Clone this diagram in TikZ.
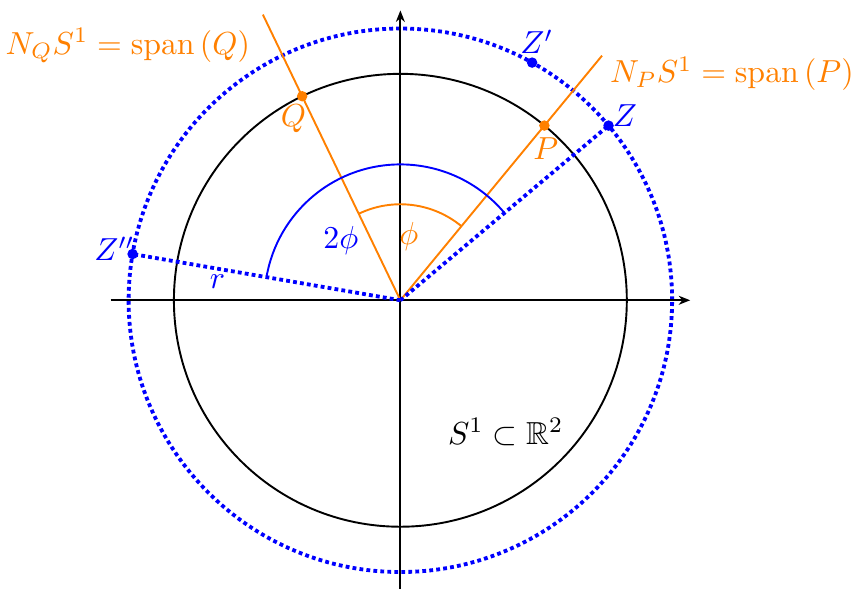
\documentclass[tikz,border=0pt]{standalone}
\usepackage{amsmath,amssymb}
\usetikzlibrary{arrows.meta}
\tikzset{
  axisline/.style={semithick,-{Stealth[length=3.6pt,width=2.8pt,inset=1.1pt]}},
  blackcirc/.style={semithick},
  orangeline/.style={orange,semithick},
  bluedot/.style={blue,very thick,densely dotted},
  dotblue/.style={circle,fill=blue,inner sep=0pt,minimum size=3.3pt},
  dotorange/.style={circle,fill=orange,inner sep=0pt,minimum size=3.3pt},
  lbl/.style={inner sep=1pt},
}
\begin{document}
\begin{tikzpicture}[x=1cm,y=1cm]
\useasboundingbox (-4.42,-3.18) rectangle (4.975,3.315);
\coordinate (O) at (0,0);
% circles
\draw[blackcirc] (O) circle[radius=2.5];
\draw[bluedot] (O) circle[radius=3];
% axes
\coordinate (xl) at (-3.2,0);
\coordinate (xr) at (3.2,0);
\coordinate (yb) at (0,-3.25);
\coordinate (yt) at (0,3.2);
\draw[axisline] (xl) -- (xr);
\draw[axisline] (yb) -- (yt);
% normal lines
\coordinate (Pend) at (50.5:3.5);
\coordinate (Qend) at (115.7:3.5);
\draw[orangeline] (O) -- (Pend);
\draw[orangeline] (O) -- (Qend);
% arcs
\coordinate (phiS) at (50.5:1.06);
\coordinate (tphiS) at (40:1.5);
\draw[orangeline] (phiS) arc[start angle=50.5,end angle=115.7,radius=1.06];
\draw[blue,semithick] (tphiS) arc[start angle=40,end angle=170,radius=1.5];
% points
\node[dotblue] (Z) at (40:3) {};
\node[dotblue] (Zp) at (61:3) {};
\node[dotblue] (Zpp) at (170.2:3) {};
\draw[bluedot] (O) -- (Z.center);
\draw[bluedot] (O) -- (Zpp.center);
\node[dotorange] (P) at (50.5:2.5) {};
\node[dotorange] (Q) at (115.7:2.5) {};
% labels
\node[lbl,orange] (NQ) at (-3.01,2.81) {$N_QS^1=\operatorname{span}\left(Q\right)$};
\node[lbl,orange] (NP) at (3.66,2.50) {$N_PS^1=\operatorname{span}\left(P\right)$};
\node[lbl,blue] (Zpl) at (1.507,2.853) {$Z'$};
\node[lbl,blue] (Zl) at (2.478,2.036) {$Z$};
\node[lbl,blue] (Zppl) at (-3.157,0.568) {$Z''$};
\node[lbl,orange] (Pl) at (1.606,1.672) {$P$};
\node[lbl,orange] (Ql) at (-1.181,2.003) {$Q$};
\node[lbl,blue] (rl) at (-2.02,0.21) {$r$};
\node[lbl,blue] (tphil) at (-0.657,0.657) {$2\phi$};
\node[lbl,orange] (phil) at (0.094,0.701) {$\phi$};
\node[lbl] (Sl) at (1.164,-1.451) {$S^1\subset\mathbb{R}^2$};
\end{tikzpicture}
\end{document}
